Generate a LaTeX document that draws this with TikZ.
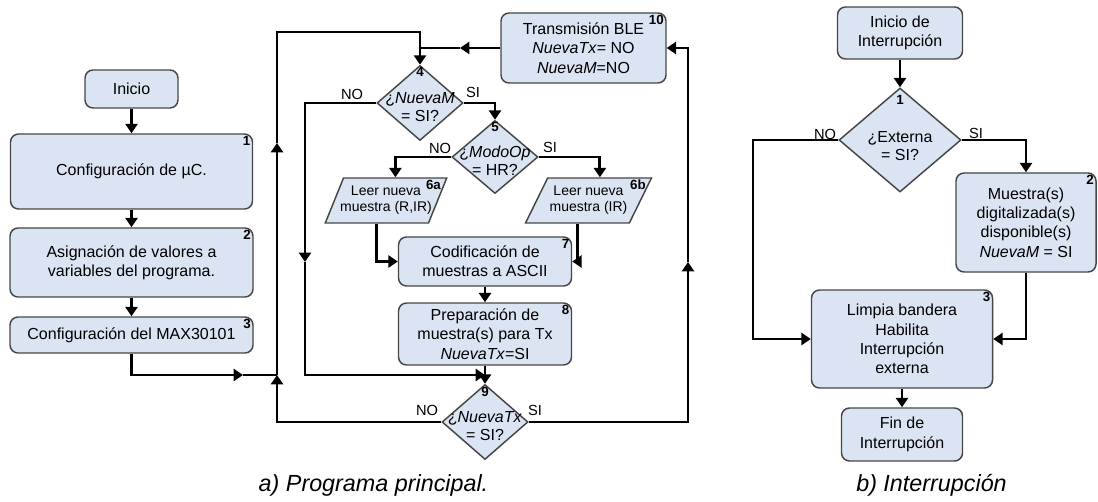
\documentclass[tikz,border=0pt]{standalone}
\usepackage{fontspec}
\setmainfont{Liberation Sans}
\usepackage{xcolor}
\usetikzlibrary{shapes.geometric,arrows.meta,positioning,calc}

\definecolor{boxfill}{RGB}{219,228,243}
\definecolor{boxline}{RGB}{70,70,70}

\tikzset{
  box/.style={draw=boxline, fill=boxfill, line width=1.1pt, rounded corners=6pt,
    align=center, inner sep=0pt, font=\fontsize{12}{14.5}\selectfont},
  dia/.style={diamond, draw=boxline, fill=boxfill, line width=1.1pt, inner sep=0pt},
  dtxt/.style={align=center, inner sep=0pt, font=\fontsize{12}{13.5}\selectfont},
  paral/.style={trapezium, trapezium left angle=63, trapezium right angle=117,
    trapezium stretches=true, draw=boxline, fill=boxfill, line width=1.1pt,
    inner xsep=-9pt, inner ysep=0pt, minimum width=91.5pt, minimum height=33.75pt,
    align=center, font=\fontsize{10.5}{12}\selectfont},
  num/.style={inner sep=2pt, font=\fontsize{10}{10}\selectfont\bfseries},
  lbl/.style={inner sep=0pt, font=\fontsize{11}{11}\selectfont},
  captxt/.style={inner sep=0pt, font=\fontsize{17.5}{20}\selectfont\itshape},
  line/.style={line width=2.2pt, black},
  arr/.style={line, -{Triangle[width=9pt,length=7pt]}}
}

\begin{document}
\begin{tikzpicture}[x=0.75pt, y=-0.75pt]
\useasboundingbox (0,0) rectangle (1098,502);

% a) Programa principal: left column
\node[box, minimum width=69.75pt, minimum height=28.5pt] (ini) at (131.5,89) {Inicio};
\node[box, minimum width=181.5pt, minimum height=56.25pt] (b1) at (131.5,171.5) {Configuración de µC.};
\node[box, minimum width=182.25pt, minimum height=51.75pt] (b2) at (131.5,262.5) {Asignación de valores a\\variables del programa.};
\node[box, minimum width=182.25pt, minimum height=27pt] (b3) at (131.5,335) {Configuración del MAX30101};

% main loop
\node[box, minimum width=123.75pt, minimum height=52.5pt] (b10) at (583.5,48) {Transmisión BLE\\\textit{NuevaTx}= NO\\\textit{NuevaM}=NO};
\node[dia, minimum width=64.5pt, minimum height=56.25pt] (d4) at (420,103) {};
\node[dtxt] (t4) at (420,107) {¿\textit{NuevaM}\\= SI?};
\node[dia, minimum width=64.5pt, minimum height=54.75pt] (d5) at (495,157) {};
\node[dtxt] (t5) at (495,161) {¿\textit{ModoOp}\\= HR?};
\node[paral] (p6a) at (386,200.5) {Leer nueva\\muestra (R,IR)};
\node[paral, minimum width=95pt] (p6b) at (588.5,200.5) {Leer nueva\\muestra (IR)};
\node[box, minimum width=129.75pt, minimum height=36.75pt] (b7) at (485,261.5) {Codificación de\\muestras a ASCII};
\node[box, minimum width=129.75pt, minimum height=46.5pt] (b8) at (485,334) {Preparación de\\muestra(s) para Tx\\\textit{NuevaTx}=SI};
\node[dia, minimum width=64.5pt, minimum height=56.25pt] (d9) at (485,422) {};
\node[dtxt] (t9) at (485,426) {¿\textit{NuevaTx}\\= SI?};

% step numbers
\foreach \n/\t in {b1/1,b2/2,b3/3,b7/7,b8/8,b10/10}
  \node[num, anchor=north east] at (\n.north east) {\t};
\foreach \n/\t in {d4/4,d5/5,d9/9}
  \node[num, anchor=north] at (\n.north) {\t};
\foreach \n/\t in {p6a/6a,p6b/6b}
  \node[num, anchor=north east, xshift=-3pt] at (\n.top right corner) {\t};

% branch labels
\node[lbl] (no4) at (352,94) {NO};
\node[lbl] (si4) at (473,92) {SI};
\node[lbl] (no5) at (440,148) {NO};
\node[lbl] (si5) at (550,147) {SI};
\node[lbl] (no9) at (427,410) {NO};
\node[lbl] (si9) at (535,410) {SI};

% bend points
\coordinate (j3) at (243,375);
\coordinate (lb) at (277,375);
\coordinate (lm) at (277,143);
\coordinate (lt) at (277,32);
\coordinate (tm) at (460,48);
\coordinate (n4) at (305,262);
\coordinate (m9) at (485,375);
\coordinate (rm) at (688,262);

% connections
\draw[arr] (ini) -- (b1);
\draw[arr] (b1) -- (b2);
\draw[arr] (b2) -- (b3);
\draw[arr] (b3) |- (j3);
\draw[line] (j3) -- (lb);
\draw[arr] (d9.west) -| (lb);
\draw[arr] (lb) -- (lm);
\draw[arr] (lm) |- (d4.north |- lt) -- (d4.north);
\draw[arr] (b10.west) -- (tm);
\draw[line] (tm) -- (d4.north |- b10.west);
\draw[arr] (d4.east) -| (d5.north);
\draw[arr] (d4.west) -| (n4);
\draw[arr] (n4) |- (m9);
\draw[arr] (d5.west) -| (p6a.top side);
\draw[arr] (d5.east) -| (p6b.top side);
\draw[arr] (p6a.bottom side) |- (b7.west);
\draw[arr] (p6b.bottom side) |- (b7.east);
\draw[arr] (b7) -- (b8);
\draw[arr] (b8) -- (d9);
\draw[arr] (d9.east) -| (rm);
\draw[arr] (rm) |- (b10.east);

% b) Interrupcion
\node[box, minimum width=93.75pt, minimum height=39pt] (ci) at (900,33) {Inicio de\\Interrupción};
\node[dia, minimum width=91.5pt, minimum height=78pt] (dx) at (900,140) {};
\node[dtxt] (tx) at (900,146) {¿Externa\\= SI?};
\node[box, minimum width=105pt, minimum height=74.25pt] (c2) at (1026,222.5) {Muestra(s)\\digitalizada(s)\\disponible(s)\\\textit{NuevaM} = SI};
\node[box, minimum width=135.75pt, minimum height=73.5pt] (c3) at (902,339) {Limpia bandera\\Habilita\\Interrupción\\externa};
\node[box, minimum width=90.75pt, minimum height=39.75pt] (cf) at (902,434.5) {Fin de\\Interrupción};

\foreach \n/\t in {c2/2,c3/3}
  \node[num, anchor=north east] at (\n.north east) {\t};
\node[num, anchor=north, inner sep=6pt] at (dx.north) {1};

\node[lbl] (nox) at (825,134) {NO};
\node[lbl] (six) at (976,133) {SI};

\coordinate (xw) at (753,339);

\draw[arr] (ci) -- (dx);
\draw[arr] (dx.west) -| (xw) -- (c3.west);
\draw[arr] (dx.east) -| (c2.north);
\draw[arr] (c2.south) |- (c3.east);
\draw[arr] (c3) -- (cf);

% captions
\node[captxt] (capa) at (373.5,485) {a) Programa principal.};
\node[captxt] (capb) at (931.5,485) {b) Interrupción};

\end{tikzpicture}
\end{document}
